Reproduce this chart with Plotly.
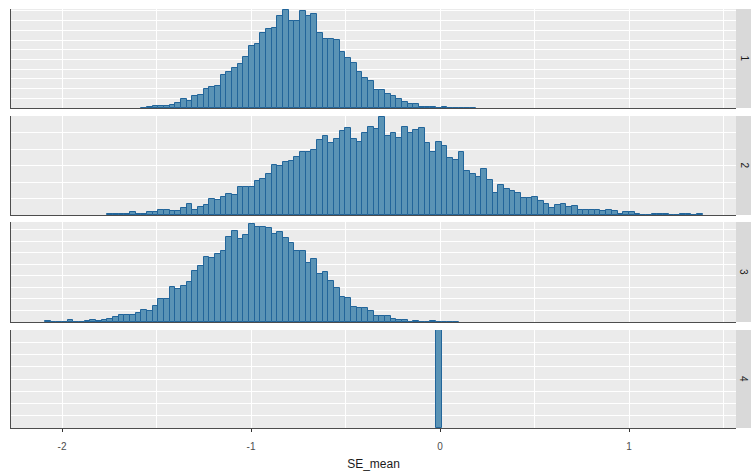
import plotly.graph_objects as go

# ---- data ----
panel_labels = ["1", "2", "3", "4"]
bin_width = 0.03
# centre of the first bin drawn in each panel
first_centers = [-1.566, -1.746, -2.076, -0.006]

counts_1 = [1, 2, 5, 5, 5, 9, 14, 22, 19, 30, 33, 50, 54, 57, 84, 92, 103, 113,
            132, 159, 166, 192, 203, 207, 238, 253, 224, 224, 250, 238, 241, 192,
            179, 178, 175, 145, 130, 116, 93, 78, 70, 47, 47, 35, 30, 22, 16, 10,
            10, 2, 2, 2, 1, 2, 0, 1, 0, 0, 1]

counts_2 = [1, 2, 1, 1, 4, 1, 2, 4, 5, 8, 8, 6, 6, 11, 17, 8, 12, 15, 25, 22,
            28, 32, 30, 43, 42, 43, 52, 55, 62, 76, 75, 80, 82, 88, 96, 96, 98,
            113, 120, 109, 115, 128, 132, 115, 111, 125, 133, 130, 148, 120, 125,
            117, 133, 125, 129, 132, 109, 96, 111, 104, 87, 84, 95, 66, 62, 57,
            70, 53, 34, 45, 40, 36, 33, 26, 26, 27, 21, 16, 11, 15, 16, 12, 13,
            8, 8, 7, 8, 6, 7, 6, 2, 4, 4, 2, 0, 0, 1, 2, 1, 0, 0, 1, 1, 0, 1]

counts_3 = [2, 0, 0, 1, 4, 1, 1, 2, 4, 2, 4, 7, 10, 15, 15, 15, 20, 26, 24, 34,
            49, 49, 77, 71, 79, 87, 110, 122, 142, 139, 147, 154, 185, 198, 181,
            188, 212, 207, 207, 203, 191, 195, 183, 171, 154, 154, 128, 137, 104,
            109, 89, 74, 55, 52, 33, 31, 31, 23, 14, 12, 12, 7, 5, 5, 1, 2, 1, 1,
            3, 0, 0, 0, 1]

counts_4 = [5000]

all_counts = [counts_1, counts_2, counts_3, counts_4]
y_max = [255, 150, 217, 5000]
y_step = [25, 25, 25, 625]
x_ticks = [-2, -1, 0, 1]

# ---- style ----
FILL = "#5A93B5"
EDGE = "#22659A"
PANEL_BG = "#EBEBEB"
STRIP_BG = "#D9D9D9"
AXIS_LINE = "#4D4D4D"
FONT = "Liberation Sans, Arial, sans-serif"

W, H = 751, 472
ML, MR, MT, MB = 11, 15, 9, 44
plot_h = H - MT - MB
plot_w = W - ML - MR
# panel pixel extents (top, bottom) measured from figure top
panel_px = [(9, 108), (116, 215), (222, 322), (330, 428)]
domains = [[(H - MB - b) / plot_h, (H - MB - t) / plot_h] for t, b in panel_px]
domains = [[max(0.0, d0), min(1.0, d1)] for d0, d1 in domains]

fig = go.Figure()
for i, counts in enumerate(all_counts):
    n = "" if i == 0 else str(i + 1)
    fig.add_trace(go.Bar(
        x0=first_centers[i], dx=bin_width, y=counts, width=bin_width,
        marker=dict(color=FILL, line=dict(color=EDGE, width=1)),
        xaxis="x" + n, yaxis="y" + n, showlegend=False,
    ))

layout = dict(
    width=W, height=H,
    margin=dict(l=ML, r=MR, t=MT, b=MB, pad=0, autoexpand=False),
    paper_bgcolor="white", plot_bgcolor=PANEL_BG,
    font=dict(family=FONT, color="#4D4D4D", size=10),
    bargap=0,
    shapes=[], annotations=[],
)

for i in range(4):
    n = "" if i == 0 else str(i + 1)
    last = (i == 3)
    xa = dict(
        domain=[0, 1], anchor="y" + n, range=[-2.27, 1.566],
        tickvals=x_ticks, ticktext=[str(v) for v in x_ticks],
        showticklabels=last, ticks="outside" if last else "",
        ticklen=3, tickcolor="#333333", tickwidth=1,
        ticklabelstandoff=6,
        tickfont=dict(size=10, color="#4D4D4D", family=FONT),
        showgrid=True, gridcolor="white", gridwidth=1.1,
        minor=dict(dtick=0.5, tick0=0, showgrid=True, gridcolor="white", gridwidth=0.8, ticks=""),
        showline=True, linecolor=AXIS_LINE, linewidth=1.2,
        zeroline=False, automargin=False,
    )
    if i > 0:
        xa["matches"] = "x"
    if last:
        xa["title"] = dict(text="SE_mean", font=dict(size=12, color="#1A1A1A", family=FONT), standoff=8)
    ya = dict(
        domain=domains[i], anchor="x" + n, range=[0, y_max[i]],
        dtick=y_step[i], tick0=0, showticklabels=False, ticks="",
        showgrid=True, gridcolor="white", gridwidth=1,
        showline=True, linecolor=AXIS_LINE, linewidth=1.2,
        zeroline=False, automargin=False,
    )
    layout["xaxis" + n] = xa
    layout["yaxis" + n] = ya

    layout["shapes"].append(dict(
        type="rect", xref="paper", yref="paper",
        x0=1.0, x1=1.0 + 16 / plot_w, y0=domains[i][0], y1=domains[i][1],
        fillcolor=STRIP_BG, line=dict(width=0), layer="above",
    ))
    layout["annotations"].append(dict(
        xref="paper", yref="paper", x=1.0 + 8 / plot_w,
        y=(domains[i][0] + domains[i][1]) / 2,
        text=panel_labels[i], showarrow=False, textangle=90,
        font=dict(size=10, color="#1A1A1A", family=FONT),
        xanchor="center", yanchor="middle",
    ))

fig.update_layout(**layout)
fig.write_html(
    "out.html",
    config={"displayModeBar": False},
    post_script="document.body.style.margin='0';document.body.style.padding='0';document.body.style.overflow='hidden';",
)
